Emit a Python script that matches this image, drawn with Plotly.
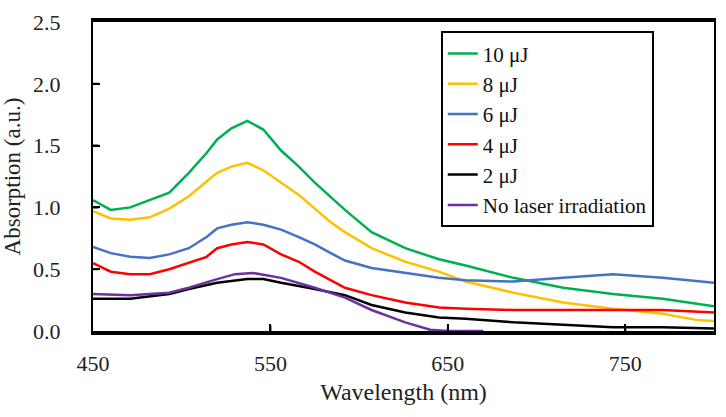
import plotly.graph_objects as go

wl_10 = [450, 460, 471, 482, 493, 504, 514, 520, 528, 537, 546, 556, 566, 575, 584, 592, 607, 626, 645, 660, 687, 715, 743, 771, 800]
abs_10 = [1.06, 0.98, 1.00, 1.06, 1.12, 1.28, 1.44, 1.55, 1.64, 1.70, 1.63, 1.46, 1.33, 1.20, 1.08, 0.98, 0.80, 0.67, 0.58, 0.53, 0.43, 0.35, 0.30, 0.26, 0.20]

wl_8 = [450, 460, 471, 482, 493, 504, 514, 520, 528, 537, 546, 556, 566, 575, 584, 592, 607, 626, 645, 660, 687, 715, 743, 771, 790, 800]
abs_8 = [0.97, 0.91, 0.90, 0.92, 0.99, 1.09, 1.21, 1.28, 1.33, 1.36, 1.30, 1.20, 1.10, 0.99, 0.88, 0.80, 0.67, 0.56, 0.48, 0.40, 0.31, 0.23, 0.18, 0.14, 0.09, 0.08]

wl_6 = [450, 460, 471, 482, 493, 504, 514, 520, 528, 537, 546, 556, 566, 575, 584, 592, 607, 626, 645, 660, 687, 715, 743, 771, 800]
abs_6 = [0.68, 0.63, 0.60, 0.59, 0.62, 0.67, 0.76, 0.83, 0.86, 0.88, 0.86, 0.82, 0.76, 0.70, 0.63, 0.57, 0.51, 0.47, 0.43, 0.41, 0.40, 0.43, 0.46, 0.43, 0.39]

wl_4 = [450, 460, 471, 482, 493, 504, 514, 520, 528, 537, 546, 556, 566, 575, 584, 592, 607, 626, 645, 660, 687, 715, 743, 771, 800]
abs_4 = [0.55, 0.48, 0.46, 0.46, 0.50, 0.55, 0.60, 0.67, 0.70, 0.72, 0.70, 0.62, 0.56, 0.48, 0.41, 0.35, 0.29, 0.23, 0.19, 0.18, 0.17, 0.17, 0.17, 0.17, 0.15]

wl_2 = [450, 471, 493, 504, 520, 537, 546, 556, 575, 592, 607, 626, 645, 660, 687, 715, 743, 771, 800]
abs_2 = [0.26, 0.26, 0.30, 0.34, 0.39, 0.42, 0.42, 0.39, 0.34, 0.29, 0.21, 0.15, 0.11, 0.10, 0.07, 0.05, 0.03, 0.03, 0.02]

wl_0 = [450, 471, 493, 504, 520, 530, 540, 556, 575, 592, 607, 626, 640, 650, 670]
abs_0 = [0.30, 0.29, 0.31, 0.35, 0.42, 0.46, 0.47, 0.43, 0.35, 0.27, 0.17, 0.07, 0.01, 0.0, 0.0]

series = [
    ("10 μJ", wl_10, abs_10, "#00B050"),
    ("8 μJ", wl_8, abs_8, "#FFC000"),
    ("6 μJ", wl_6, abs_6, "#4472C4"),
    ("4 μJ", wl_4, abs_4, "#FF0000"),
    ("2 μJ", wl_2, abs_2, "#000000"),
    ("No laser irradiation", wl_0, abs_0, "#7030A0"),
]

x_range = [450, 800]
y_range = [0.0, 2.5]
x_ticks = [450, 550, 650, 750]
y_ticks = [0.0, 0.5, 1.0, 1.5, 2.0, 2.5]

FONT = "Liberation Serif"
W, H = 726, 417
M_L, M_R, M_T, M_B = 93, 10, 16, 86
PLOT_W = W - M_L - M_R
PLOT_H = H - M_T - M_B

fig = go.Figure()
for name, x, y, c in series:
    fig.add_trace(go.Scatter(x=x, y=y, mode="lines", name=name,
                             line=dict(color=c, width=2.5)))

# frame: an empty bordered annotation box covering the plot area
annotations = [dict(xref="paper", yref="paper", x=0.5, y=0.5, xanchor="center",
                    yanchor="middle", text=" ", showarrow=False,
                    width=PLOT_W - 2, height=PLOT_H - 2, borderpad=0,
                    bordercolor="#000000", borderwidth=2)]
# inside tick marks as short arrowless annotation lines at the tick values
for v in x_ticks:
    if x_range[0] < v < x_range[1]:
        annotations.append(dict(xref="x", yref="y", x=v, y=y_range[0], text="",
                                showarrow=True, arrowhead=0, ax=0, ay=-7,
                                arrowwidth=2, arrowcolor="#000000", standoff=0,
                                startstandoff=0))
for v in y_ticks:
    if y_range[0] < v < y_range[1]:
        annotations.append(dict(xref="x", yref="y", x=x_range[0], y=v, text="",
                                showarrow=True, arrowhead=0, ax=7, ay=0,
                                arrowwidth=2, arrowcolor="#000000", standoff=0,
                                startstandoff=0))

fig.update_layout(
    width=W, height=H,
    margin=dict(l=M_L, r=M_R, t=M_T, b=M_B),
    paper_bgcolor="white", plot_bgcolor="white",
    font=dict(family=FONT, color="#222222", size=22),
    showlegend=True,
    legend=dict(x=0.56, y=0.97, xanchor="left", yanchor="top",
                bordercolor="black", borderwidth=2, bgcolor="white",
                font=dict(family=FONT, size=21, color="#111111"),
                tracegroupgap=0),
    annotations=annotations,
    xaxis=dict(range=x_range, tickvals=x_ticks, ticks="inside", ticklen=7,
               tickwidth=2, tickcolor="#000000", showline=True, mirror=True,
               linecolor="#000000", linewidth=2, showgrid=False, zeroline=False,
               ticklabelstandoff=12,
               title=dict(text="Wavelength (nm)", font=dict(size=24), standoff=8)),
    yaxis=dict(range=y_range, tickvals=y_ticks, tickformat=".1f", ticks="inside",
               ticklen=7, tickwidth=2, tickcolor="#000000", showline=True,
               mirror=True, linecolor="#000000", linewidth=2, showgrid=False,
               zeroline=False, ticklabelstandoff=26,
               title=dict(text="Absorption (a.u.)", font=dict(size=23), standoff=6)),
)

fig.write_html("out.html", config={"displayModeBar": False},
               post_script="document.body.style.margin='0';document.body.style.overflow='hidden';")
